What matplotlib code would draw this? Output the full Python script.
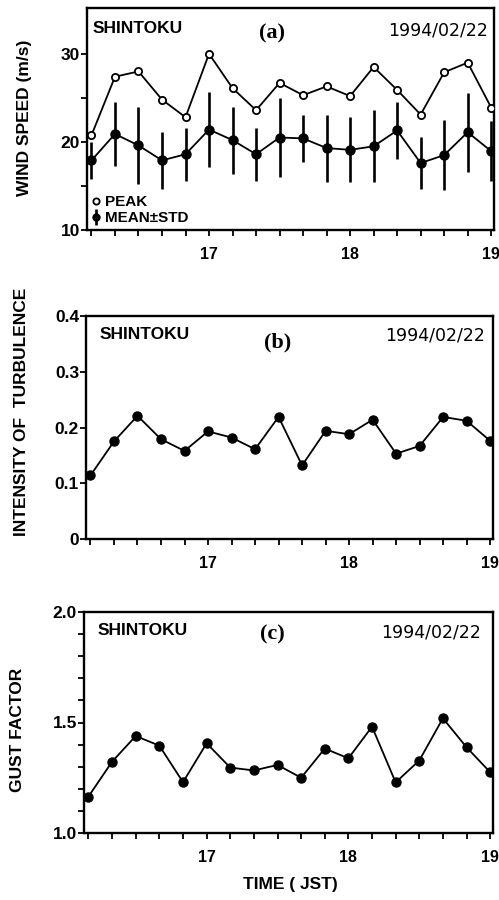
import matplotlib
matplotlib.use("Agg")
import matplotlib.pyplot as plt
from matplotlib.ticker import FixedLocator, FuncFormatter
from matplotlib.lines import Line2D
import numpy as np

# ---- data ----
time_hours = [16 + 10/60 * k for k in range(1, 19)]  # 16:10 ... 19:00 (10-min intervals)
peak_speed = [20.75, 27.4, 28.0, 24.8, 22.8, 30.0, 26.1, 23.6, 26.7, 25.3,
              26.3, 25.2, 28.5, 25.9, 23.1, 27.9, 29.0, 23.9]
mean_speed = [17.9, 20.9, 19.6, 17.9, 18.6, 21.4, 20.2, 18.6, 20.5, 20.4,
              19.3, 19.1, 19.5, 21.3, 17.6, 18.5, 21.1, 18.95]
std_speed = [2.1, 3.6, 4.4, 3.2, 3.0, 4.3, 3.8, 3.0, 4.5, 2.7,
             3.8, 3.7, 4.1, 3.2, 3.0, 4.0, 4.5, 3.4]
turb_intensity = [0.114, 0.175, 0.221, 0.179, 0.158, 0.193, 0.182, 0.161, 0.219, 0.132,
                  0.194, 0.188, 0.214, 0.153, 0.167, 0.219, 0.212, 0.176]
gust_factor = [1.165, 1.323, 1.439, 1.395, 1.230, 1.406, 1.296, 1.283, 1.308, 1.250,
               1.382, 1.338, 1.481, 1.229, 1.328, 1.519, 1.388, 1.275]

x_major = [17, 18, 19]
station = "SHINTOKU"
date_str = "1994/02/22"

SANS = ["Liberation Sans", "DejaVu Sans"]
SERIF = ["Liberation Serif", "DejaVu Serif"]
plt.rcParams['font.family'] = SANS
plt.rcParams['font.weight'] = 'bold'
plt.rcParams['axes.linewidth'] = 1.5

W, H = 499, 900
fig = plt.figure(figsize=(W/100, H/100), dpi=100)

def frac_rect(left, right, top, bottom):
    return [left/W, 1 - bottom/H, (right-left)/W, (bottom-top)/H]

ax_a = fig.add_axes(frac_rect(87, 494, 8, 230))
ax_b = fig.add_axes(frac_rect(86, 493, 316, 539))
ax_c = fig.add_axes(frac_rect(84, 493, 612, 833))

lw = 1.3
for ax in (ax_a, ax_b, ax_c):
    ax.set_xlim(16.135, 19.02)
    ax.xaxis.set_major_locator(FixedLocator(x_major))
    ax.xaxis.set_minor_locator(FixedLocator(time_hours))
    ax.xaxis.set_major_formatter(FuncFormatter(lambda v, p: f"{int(round(v))}"))
    ax.tick_params(axis='both', which='both', direction='out', width=1.3,
                   labelsize=12.5, top=False, right=False, pad=1)
    ax.tick_params(axis='x', labelsize=11.5)
    ax.tick_params(axis='both', which='major', length=4)
    ax.tick_params(axis='both', which='minor', length=4)
    ax.tick_params(axis='x', which='major', pad=8)
    for s in ax.spines.values():
        s.set_linewidth(1.7)

# (a)
ax_a.plot(time_hours, peak_speed, '-o', color='black', lw=lw, ms=5.2,
          mfc='white', mec='black', mew=1.3, zorder=3)
ax_a.errorbar(time_hours, mean_speed, yerr=std_speed, fmt='-o', color='black',
              lw=lw, ms=6.5, elinewidth=1.9, capsize=0, zorder=3)
ax_a.set_ylim(10, 35.2)
ax_a.yaxis.set_major_locator(FixedLocator([10, 20, 30]))
ax_a.yaxis.set_minor_locator(FixedLocator([15, 25]))

h_peak = Line2D([], [], ls='none', marker='o', ms=4.5, mfc='white', mec='black', mew=1.3)
h_mean = ax_a.errorbar([], [], yerr=[], fmt='o', color='black', ms=5, elinewidth=1.9)
ax_a.legend([h_peak, h_mean], ["PEAK", "MEAN\u00b1STD"], loc='lower left',
            frameon=False, fontsize=11, handlelength=0.6, handletextpad=0.25,
            borderaxespad=0.1, labelspacing=0.15, borderpad=0.2)

# (b)
ax_b.plot(time_hours, turb_intensity, '-o', color='black', lw=lw, ms=6.5, zorder=3)
ax_b.set_ylim(0, 0.4)
ax_b.yaxis.set_major_locator(FixedLocator([0, 0.1, 0.2, 0.3, 0.4]))
ax_b.yaxis.set_major_formatter(FuncFormatter(lambda v, p: "0" if abs(v) < 1e-9 else f"{v:.1f}"))

# (c)
ax_c.plot(time_hours, gust_factor, '-o', color='black', lw=lw, ms=6.5, zorder=3)
ax_c.set_ylim(1.0, 2.0)
ax_c.yaxis.set_major_locator(FixedLocator([1.0, 1.5, 2.0]))
ax_c.yaxis.set_minor_locator(FixedLocator([1.1, 1.2, 1.3, 1.4, 1.6, 1.7, 1.8, 1.9]))
ax_c.yaxis.set_major_formatter(FuncFormatter(lambda v, p: f"{v:.1f}"))

# annotations
specs = [
    (ax_a, "(a)", (0.014, 0.94), (0.455, 0.885), (0.985, 0.94)),
    (ax_b, "(b)", (0.034, 0.95), (0.47, 0.88), (0.98, 0.955)),
    (ax_c, "(c)", (0.032, 0.95), (0.46, 0.9), (0.97, 0.95)),
]
for ax, lab, p_st, p_lab, p_date in specs:
    ax.text(*p_st, station, transform=ax.transAxes, ha='left', va='top', fontsize=12.5)
    ax.text(*p_lab, lab, transform=ax.transAxes, ha='center', va='center',
            fontsize=16, fontweight='bold', family=SERIF)
    ax.text(*p_date, date_str, transform=ax.transAxes, ha='right', va='top',
            fontsize=12.5, fontweight='normal', family=["DejaVu Sans"])

fig.text(25/W, 1 - 118/H, "WIND SPEED (m/s)", rotation=90, ha='center', va='center', fontsize=12.5)
fig.text(22/W, 1 - 412/H, "INTENSITY OF  TURBULENCE", rotation=90, ha='center', va='center', fontsize=12.5)
fig.text(18/W, 1 - 730/H, "GUST FACTOR", rotation=90, ha='center', va='center', fontsize=12.5)
fig.text(290/W, 1 - 884/H, "TIME ( JST)", ha='center', va='center', fontsize=12.5)

fig.savefig("out.png", dpi=100, facecolor='white')
